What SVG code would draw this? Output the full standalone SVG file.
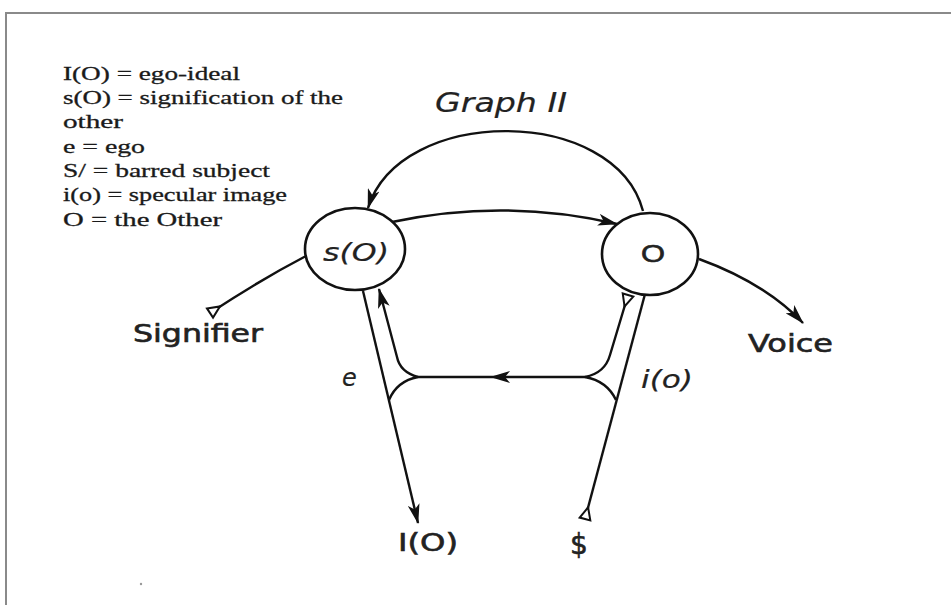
<svg xmlns="http://www.w3.org/2000/svg" width="951" height="605" viewBox="0 0 951 605">
<style>
.frame{fill:none;stroke:#8a8a8a;stroke-width:2}
.node{fill:#fff;stroke:#111;stroke-width:2.6}
.edge{fill:none;stroke:#111;stroke-width:2.4}
.legend{font-family:"Liberation Serif","DejaVu Serif",serif;font-size:19px;fill:#1a1a1a;stroke:#1a1a1a;stroke-width:0.3}
.lbl{font-family:"DejaVu Sans","Liberation Sans",sans-serif;font-size:24px;fill:#222;stroke:#222;stroke-width:0.6}
.it{font-style:italic;stroke-width:0.2}
</style>
<defs>
<marker id="arrow" viewBox="0 0 20 12" refX="19" refY="6" markerWidth="20" markerHeight="12" markerUnits="userSpaceOnUse" orient="auto">
<path d="M0,0 L20,6 L0,12 L5,6 z" fill="#111"/>
</marker>
<marker id="tri" viewBox="-2 -8 16 16" refX="0" refY="0" markerWidth="16" markerHeight="16" markerUnits="userSpaceOnUse" orient="auto">
<path d="M0,-5.5 L12,0 L0,5.5 z" fill="#fff" stroke="#111" stroke-width="2"/>
</marker>
</defs>
<rect width="951" height="605" fill="#fff"/>
<path class="frame" d="M6,605 V13 H951"/>
<g id="legend">
<text class="legend" x="63" y="80" textLength="177" lengthAdjust="spacingAndGlyphs">I(O) = ego-ideal</text>
<text class="legend" x="63" y="104" textLength="280" lengthAdjust="spacingAndGlyphs">s(O) = signification of the</text>
<text class="legend" x="63" y="128" textLength="60" lengthAdjust="spacingAndGlyphs">other</text>
<text class="legend" x="63" y="153" textLength="82" lengthAdjust="spacingAndGlyphs">e = ego</text>
<text class="legend" x="63" y="177" textLength="207" lengthAdjust="spacingAndGlyphs">S/ = barred subject</text>
<text class="legend" x="63" y="201" textLength="224" lengthAdjust="spacingAndGlyphs">i(o) = specular image</text>
<text class="legend" x="63" y="226" textLength="159" lengthAdjust="spacingAndGlyphs">O = the Other</text>
</g>
<g id="title">
<text class="lbl it" x="435" y="112" style="font-size:26px" textLength="132" lengthAdjust="spacingAndGlyphs">Graph II</text>
</g>
<g id="connectors">
<path class="edge" d="M643,211 C615,105 400,105 368,208" marker-end="url(#arrow)"/>
<path class="edge" d="M392,222 Q505,198 617,224" marker-end="url(#arrow)"/>
<path class="edge" d="M210,313 Q260,280 306,256" marker-start="url(#tri)"/>
<path class="edge" d="M699,259 Q765,283 803,323" marker-end="url(#arrow)"/>
<path class="edge" d="M363,291 L418,523" marker-end="url(#arrow)"/>
<path class="edge" d="M418,377 Q400,372 397,357 L379,289" marker-end="url(#arrow)"/>
<path class="edge" d="M418,377 Q397,381 389,400"/>
<path class="edge" d="M585,377 L491,377 L418,377" marker-mid="url(#arrow)"/>
<path class="edge" d="M585,519 L645,294" marker-start="url(#tri)"/>
<path class="edge" d="M628,295 L610,355 Q605,373 585,377" marker-start="url(#tri)"/>
<path class="edge" d="M585,377 Q607,381 616,400"/>
</g>
<g id="node-sO">
<ellipse class="node" cx="355" cy="249" rx="50" ry="41"/>
<text class="lbl it" x="323" y="261" style="font-size:25px" textLength="66" lengthAdjust="spacingAndGlyphs">s(O)</text>
</g>
<g id="node-O">
<ellipse class="node" cx="650" cy="254" rx="48" ry="41"/>
<text class="lbl" x="641" y="262" style="font-family:'Liberation Sans',sans-serif;font-size:24px" textLength="24" lengthAdjust="spacingAndGlyphs">O</text>
</g>
<g id="node-signifier">
<text class="lbl" x="133" y="342" textLength="130" lengthAdjust="spacingAndGlyphs">Signifier</text>
</g>
<g id="node-voice">
<text class="lbl" x="748" y="352" textLength="85" lengthAdjust="spacingAndGlyphs">Voice</text>
</g>
<g id="node-e">
<text class="lbl it" x="342" y="386">e</text>
</g>
<g id="node-io">
<text class="lbl it" x="641" y="388" textLength="52" lengthAdjust="spacingAndGlyphs">i(o)</text>
</g>
<g id="node-IO">
<text class="lbl" x="398" y="551" style="font-size:25px" textLength="60" lengthAdjust="spacingAndGlyphs">I(O)</text>
</g>
<g id="node-S">
<text class="lbl" x="570" y="554" style="font-size:28px">$</text>
</g>
<circle cx="141" cy="584" r="1.2" fill="#999"/>
</svg>
